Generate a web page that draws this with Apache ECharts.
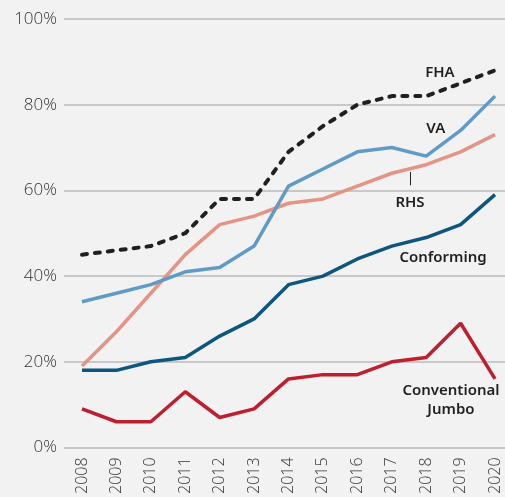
<!DOCTYPE html>
<html>
  <head>
    <meta charset="utf-8" />
    <title>ECharts</title>
    <script src="https://cdn.jsdelivr.net/npm/echarts@6/dist/echarts.min.js"></script>
  </head>
  <body style="margin:0; background:#f2f2f2">
    <div id="main" style="width:505px;height:497px;"></div>
    <script type="text/javascript">
      var years = [2008, 2009, 2010, 2011, 2012, 2013, 2014, 2015, 2016, 2017, 2018, 2019, 2020];
      // share of loans, %
      var fha = [45, 46, 47, 50, 58, 58, 69, 75, 80, 82, 82, 85, 88];
      var va = [34, 36, 38, 41, 42, 47, 61, 65, 69, 70, 68, 74, 82];
      var rhs = [19, 27, 36, 45, 52, 54, 57, 58, 61, 64, 66, 69, 73];
      var conforming = [18, 18, 20, 21, 26, 30, 38, 40, 44, 47, 49, 52, 59];
      var jumbo = [9, 6, 6, 13, 7, 9, 16, 17, 17, 20, 21, 29, 16];

      // series name labels, placed in data space [year, %]
      var labelText = ['FHA', 'VA', 'RHS', 'Conforming', 'Conventional\nJumbo'];
      var labelPos = [[2018.4, 87.4], [2018.28, 74.4], [2017.53, 57.2], [2018.49, 44.2], [2018.72, 11.0]];
      var rhsTick = [[2017.53, 64.3], [2017.53, 61.2]];

      function pairs(vals) {
        return vals.map(function (v, i) { return [years[i], v]; });
      }

      var myChart = echarts.init(document.getElementById('main'));

      var labelPoints = labelText.map(function (t, i) {
        return { coord: labelPos[i], value: t };
      });

      function lineSeries(name, vals, color, extra) {
        var s = {
          name: name,
          type: 'line',
          data: pairs(vals),
          symbol: 'none',
          lineStyle: { color: color, width: 3.5 },
          emphasis: { disabled: true }
        };
        if (extra) Object.assign(s.lineStyle, extra);
        return s;
      }

      var series = [
        lineSeries('Conventional Jumbo', jumbo, '#be1e2d'),
        lineSeries('Conforming', conforming, '#0d5680'),
        lineSeries('RHS', rhs, '#e59383'),
        lineSeries('VA', va, '#5f9bc6'),
        lineSeries('FHA', fha, '#231f20', { type: [5, 8], cap: 'round', width: 4 })
      ];

      series.push({
        name: 'labels',
        type: 'line',
        data: [],
        markPoint: {
          symbol: 'rect',
          symbolSize: 0,
          silent: true,
          label: {
            show: true,
            position: 'inside',
            formatter: '{c}',
            color: '#231f20',
            fontFamily: 'Noto Sans',
            fontWeight: 600,
            fontSize: 15,
            lineHeight: 19,
            align: 'center'
          },
          data: labelPoints
        },
        markLine: {
          symbol: 'none',
          silent: true,
          label: { show: false },
          lineStyle: { color: '#231f20', width: 1, type: 'solid' },
          data: [[{ coord: rhsTick[0] }, { coord: rhsTick[1] }]]
        }
      });

      var option = {
        backgroundColor: '#f2f2f2',
        animation: false,
        grid: { left: 64, right: 0, top: 19, bottom: 48, containLabel: false },
        xAxis: {
          type: 'value',
          min: 2007.477,
          max: 2020.29,
          axisLine: { show: false },
          axisTick: { show: false },
          splitLine: { show: false },
          axisLabel: {
            customValues: years,
            rotate: 90,
            margin: 10,
            color: '#333333',
            fontFamily: 'Open Sans',
            fontWeight: 300,
            fontSize: 16,
            formatter: function (v) { return String(v); }
          }
        },
        yAxis: {
          type: 'value',
          min: 0,
          max: 100,
          interval: 20,
          axisLine: { show: false },
          axisTick: { show: false },
          splitLine: { lineStyle: { color: '#c8c8c8', width: 2 } },
          axisLabel: {
            margin: 7,
            color: '#333333',
            fontFamily: 'Open Sans',
            fontWeight: 300,
            fontSize: 17,
            formatter: '{value}%'
          }
        },
        series: series
      };

      myChart.setOption(option);
    </script>
  </body>
</html>
